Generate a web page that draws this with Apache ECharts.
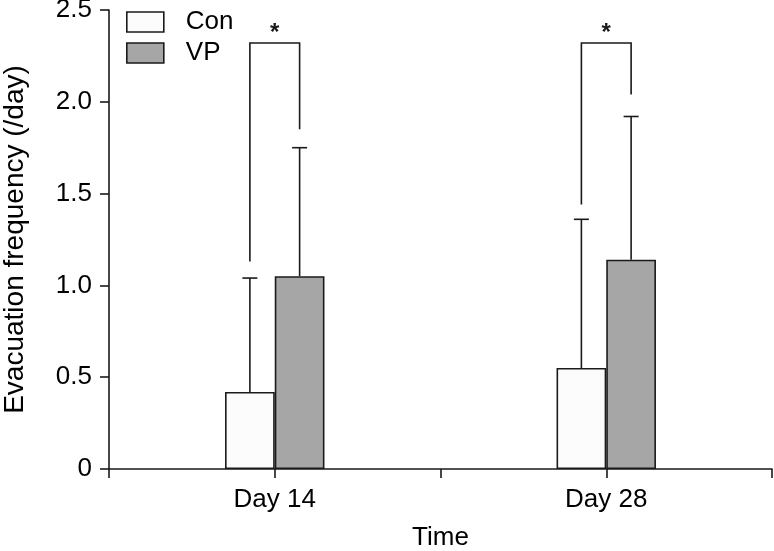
<!DOCTYPE html>
<html><head><meta charset="utf-8">
<script src="https://cdn.jsdelivr.net/npm/echarts@6/dist/echarts.min.js"></script>
<style>html,body{margin:0;padding:0;background:#fff}#c{width:774px;height:551px}</style>
</head><body><div id="c"></div>
<script>
// ---- data ----
const categories = ['', 'Day 14', '', 'Day 28', ''];
const conMean = [null, 0.42, null, 0.55, null];
const conSD   = [null, 0.62, null, 0.81, null];
const vpMean  = [null, 1.05, null, 1.14, null];
const vpSD    = [null, 0.70, null, 0.78, null];
const yTicks  = [0, 0.5, 1.0, 1.5, 2.0, 2.5];
const sigTop    = [null, 2.32, null, 2.32, null];
const sigConEnd = [null, 1.13, null, 1.44, null];
const sigVpEnd  = [null, 1.85, null, 2.04, null];
const sigLabel  = [null, '*', null, '*', null];

// ---- build ----
const FONT = "'Liberation Sans', Arial, Helvetica, sans-serif";
const INK = '#1a1a1a';
const TXT = '#000';
const LW = 1.6;
function errData(mean, sd) {
  const out = [];
  mean.forEach((m, i) => { if (m != null) out.push([i, m, m + sd[i]]); });
  return out;
}
const sigData = [];
sigTop.forEach((t, i) => { if (t != null) sigData.push([i, t, sigConEnd[i], sigVpEnd[i], sigLabel[i]]); });

function errRender(side) {
  return function (params, api) {
    const bw = api.size([1, 0])[0];
    const off = side * bw * 0.15;
    const p0 = api.coord([api.value(0), api.value(1)]);
    const p1 = api.coord([api.value(0), api.value(2)]);
    const x = p0[0] + off;
    const cap = 7.5;
    return {
      type: 'group', children: [
        { type: 'line', shape: { x1: x, y1: p0[1], x2: x, y2: p1[1] }, style: { stroke: INK, lineWidth: LW } },
        { type: 'line', shape: { x1: x - cap, y1: p1[1], x2: x + cap, y2: p1[1] }, style: { stroke: INK, lineWidth: LW } }
      ]
    };
  };
}
function sigRender(params, api) {
  const bw = api.size([1, 0])[0];
  const off = bw * 0.15;
  const i = api.value(0);
  const pt = api.coord([i, api.value(1)]);
  const pc = api.coord([i, api.value(2)]);
  const pv = api.coord([i, api.value(3)]);
  const xl = pt[0] - off, xr = pt[0] + off;
  return {
    type: 'group', children: [
      { type: 'polyline', shape: { points: [[xl, pc[1]], [xl, pt[1]], [xr, pt[1]], [xr, pv[1]]] },
        style: { stroke: INK, lineWidth: LW, fill: null } },
      { type: 'text', x: pt[0], y: pt[1] - 10,
        style: { text: sigData[params.dataIndex][4], font: 'bold 24px ' + FONT, fill: INK, align: 'center', verticalAlign: 'middle' } }
    ]
  };
}

const chart = echarts.init(document.getElementById('c'), null, { renderer: 'canvas' });
chart.setOption({
  backgroundColor: '#fff',
  animation: false,
  textStyle: { fontFamily: FONT },
  grid: { left: 109, right: 2, top: 10, bottom: 82, containLabel: false, outerBoundsMode: 'none' },
  legend: {
    orient: 'vertical', left: 126, top: 9, padding: 0, itemWidth: 37, itemHeight: 20, itemGap: 5,
    icon: 'rect', data: ['Con', 'VP'],
    itemStyle: { borderColor: INK, borderWidth: LW },
    textStyle: { fontSize: 26, color: TXT, fontFamily: FONT, padding: [0, 0, 0, 17] }
  },
  xAxis: {
    type: 'category', data: categories, boundaryGap: false,
    name: 'Time', nameLocation: 'middle', nameGap: 56,
    nameTextStyle: { fontSize: 26, color: TXT, fontFamily: FONT },
    axisLine: { show: true, lineStyle: { color: INK, width: LW } },
    axisTick: { show: true, length: 9, inside: false, interval: 0, lineStyle: { color: INK, width: LW } },
    axisLabel: { interval: 0, margin: 18, fontSize: 26, color: TXT, fontFamily: FONT },
    splitLine: { show: false }
  },
  yAxis: {
    type: 'value', min: 0, max: 2.5, interval: 0.5,
    name: 'Evacuation frequency (/day)', nameLocation: 'middle', nameGap: 80, nameRotate: 90,
    nameTextStyle: { fontSize: 28, color: TXT, fontFamily: FONT },
    axisLine: { show: true, lineStyle: { color: INK, width: LW } },
    axisTick: { show: true, length: 9, lineStyle: { color: INK, width: LW } },
    axisLabel: { margin: 17, fontSize: 26, color: TXT, fontFamily: FONT,
      formatter: v => (yTicks.indexOf(v) >= 0 ? (v === 0 ? '0' : v.toFixed(1)) : '') },
    splitLine: { show: false }
  },
  series: [
    { name: 'Con', type: 'bar', data: conMean, barWidth: '30%', barGap: '0%',
      itemStyle: { color: '#fcfcfc', borderColor: INK, borderWidth: LW } },
    { name: 'VP', type: 'bar', data: vpMean, barWidth: '30%', barGap: '0%',
      itemStyle: { color: '#a6a6a6', borderColor: INK, borderWidth: LW } },
    { name: 'ConErr', type: 'custom', renderItem: errRender(-1), data: errData(conMean, conSD), z: 5, clip: false, silent: true },
    { name: 'VPErr', type: 'custom', renderItem: errRender(1), data: errData(vpMean, vpSD), z: 5, clip: false, silent: true },
    { name: 'Sig', type: 'custom', renderItem: sigRender, data: sigData, z: 5, clip: false, silent: true }
  ]
});
</script>
</body></html>
